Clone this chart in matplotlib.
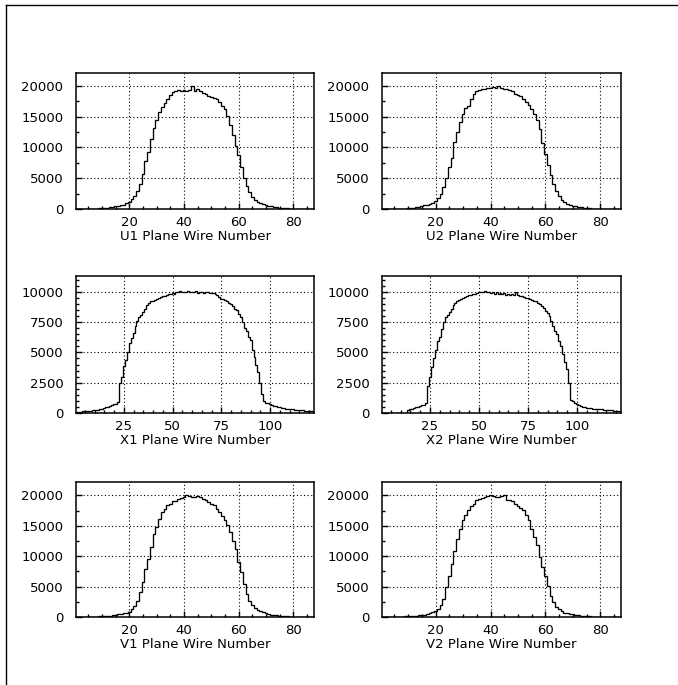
import numpy as np
import matplotlib
matplotlib.use("Agg")
import matplotlib.pyplot as plt
from matplotlib.ticker import MultipleLocator
from matplotlib.lines import Line2D

plt.rcParams['font.family'] = ['DejaVu Sans']

# ---- data (counts in thousands, one value per wire, wires start at 1) ----
u1 = [0, 0, 0, 0.01, 0.02, 0.03, 0.05, 0.07, 0.1, 0.13, 0.17, 0.22, 0.27, 0.33, 0.42, 0.5, 0.6, 0.72, 0.9, 1.2,
      1.6, 2.1, 2.9, 4.1, 5.7, 7.8, 9.3, 11.4, 13.2, 14.4, 15.7, 16.5, 17.2, 17.9, 18.6, 19.0, 19.2, 19.3, 19.1, 19.3,
      19.2, 19.4, 20.0, 19.2, 19.5, 19.1, 18.9, 18.7, 18.4, 18.2, 18.0, 17.9, 17.4, 16.8, 16.2, 15.1, 13.6, 12.1, 10.3, 8.7,
      6.8, 5.1, 3.8, 2.7, 2.0, 1.5, 1.1, 0.9, 0.76, 0.62, 0.5, 0.42, 0.34, 0.27, 0.22, 0.17, 0.13, 0.1, 0.07, 0.05,
      0.03, 0.02, 0.01, 0.01, 0, 0, 0]
u2 = [0, 0, 0, 0, 0.01, 0.02, 0.03, 0.05, 0.08, 0.12, 0.17, 0.22, 0.29, 0.37, 0.46, 0.58, 0.72, 0.85, 1.0, 1.3,
      1.85, 2.4, 3.5, 5.1, 6.8, 8.3, 10.85, 12.5, 14.1, 15.5, 16.4, 16.8, 17.8, 18.7, 19.1, 19.4, 19.55, 19.5, 19.7, 19.65,
      19.8, 19.6, 19.95, 19.7, 19.55, 19.45, 19.3, 19.1, 18.7, 18.6, 18.3, 17.9, 17.4, 16.9, 16.3, 15.5, 14.4, 13.0, 10.8, 9.0,
      7.2, 5.6, 4.0, 2.9, 2.1, 1.5, 1.1, 0.88, 0.7, 0.55, 0.42, 0.32, 0.25, 0.2, 0.15, 0.11, 0.08, 0.06, 0.04, 0.03,
      0.02, 0.01, 0.01, 0, 0, 0, 0]
x1 = [0.08, 0.1, 0.12, 0.14, 0.15, 0.17, 0.19, 0.2, 0.22, 0.24, 0.26, 0.28, 0.31, 0.35, 0.42, 0.47, 0.53, 0.6, 0.66, 0.73,
      0.78, 0.9, 2.5, 3.0, 3.9, 4.4, 5.0, 5.8, 6.2, 6.6, 7.2, 7.6, 7.9, 8.1, 8.3, 8.6, 8.9, 9.1, 9.2, 9.27,
      9.35, 9.4, 9.5, 9.55, 9.62, 9.66, 9.72, 9.78, 9.83, 9.89, 9.8, 10.0, 9.95, 10.05, 10.0, 9.95, 10.02, 10.05, 9.98, 10.0,
      9.95, 10.03, 9.9, 10.0, 9.97, 9.93, 10.0, 9.95, 9.92, 9.9, 9.88, 9.8, 9.75, 9.6, 9.44, 9.4, 9.36, 9.2, 9.08, 8.95,
      8.85, 8.6, 8.5, 8.2, 7.9, 7.5, 7.0, 6.8, 6.3, 6.0, 5.2, 4.6, 4.0, 3.4, 2.5, 1.6, 0.95, 0.85, 0.8, 0.75,
      0.68, 0.6, 0.55, 0.5, 0.46, 0.42, 0.39, 0.36, 0.34, 0.33, 0.31, 0.3, 0.28, 0.27, 0.26, 0.24, 0.22, 0.2, 0.19, 0.18,
      0.16, 0.14]
x2 = [0, 0, 0, 0, 0, 0, 0, 0, 0, 0, 0, 0, 0, 0.28, 0.32, 0.37, 0.42, 0.47, 0.53, 0.58,
      0.63, 0.7, 0.85, 2.2, 3.0, 3.8, 4.5, 5.2, 5.9, 6.3, 6.9, 7.5, 7.9, 8.1, 8.3, 8.6, 8.9, 9.1, 9.2, 9.3,
      9.4, 9.5, 9.55, 9.65, 9.7, 9.75, 9.8, 9.85, 9.9, 9.95, 10.0, 10.02, 10.05, 9.98, 9.95, 9.93, 10.0, 9.85, 9.95, 9.82,
      9.9, 9.8, 9.88, 9.75, 9.85, 9.75, 9.8, 9.72, 9.95, 9.7, 9.68, 9.62, 9.58, 9.52, 9.48, 9.4, 9.35, 9.25, 9.2, 9.05,
      8.95, 8.8, 8.65, 8.45, 8.25, 8.0, 7.6, 7.2, 6.8, 6.5, 5.9, 5.5, 4.9, 4.2, 3.6, 2.5, 1.1, 0.95, 0.8, 0.72,
      0.65, 0.58, 0.52, 0.48, 0.44, 0.42, 0.39, 0.37, 0.35, 0.34, 0.32, 0.31, 0.3, 0.28, 0.27, 0.25, 0.23, 0.21, 0.2, 0.19,
      0.18, 0.17]
v1 = [0, 0, 0, 0, 0.01, 0.02, 0.04, 0.06, 0.09, 0.12, 0.15, 0.19, 0.23, 0.28, 0.35, 0.42, 0.5, 0.58, 0.68, 0.88,
      1.3, 1.87, 2.7, 4.07, 5.7, 7.9, 9.56, 11.48, 13.7, 14.78, 16.15, 17.25, 17.8, 18.35, 18.6, 19.0, 19.1, 19.34, 19.56, 19.73,
      20.0, 19.9, 19.73, 19.75, 19.84, 19.8, 19.34, 19.18, 18.9, 18.63, 18.35, 17.8, 17.25, 16.54, 15.9, 15.05, 13.96, 12.58, 11.2, 9.0,
      7.36, 5.44, 3.8, 2.7, 1.98, 1.48, 1.15, 0.93, 0.77, 0.62, 0.5, 0.4, 0.32, 0.25, 0.2, 0.16, 0.12, 0.09, 0.07, 0.05,
      0.03, 0.02, 0.01, 0.01, 0, 0, 0]
v2 = [0, 0, 0, 0, 0, 0.02, 0.04, 0.07, 0.1, 0.13, 0.16, 0.19, 0.22, 0.28, 0.34, 0.4, 0.48, 0.58, 0.75, 0.99,
      1.3, 1.98, 2.97, 4.89, 6.8, 8.74, 10.93, 12.86, 14.5, 15.88, 16.81, 17.53, 18.24, 18.63, 19.18, 19.34, 19.56, 19.73, 19.9, 20.0,
      19.85, 19.73, 19.8, 19.85, 20.0, 19.18, 19.2, 19.01, 18.63, 18.19, 17.91, 17.53, 16.81, 15.88, 14.5, 13.13, 11.76, 9.84, 8.19, 6.81,
      5.16, 3.52, 2.42, 1.7, 1.32, 0.99, 0.71, 0.6, 0.5, 0.44, 0.35, 0.27, 0.21, 0.16, 0.12, 0.11, 0.08, 0.06, 0.04, 0.03,
      0.02, 0.01, 0.01, 0, 0, 0, 0]

labels = ["U1 Plane Wire Number", "U2 Plane Wire Number",
          "X1 Plane Wire Number", "X2 Plane Wire Number",
          "V1 Plane Wire Number", "V2 Plane Wire Number"]
series = [u1, u2, x1, x2, v1, v2]

# ---- layout (pixel boxes: left, top, right, bottom) ----
W, H = 678, 685
boxes = [(76, 73, 314, 209), (382, 73, 621, 209),
         (76, 276, 314, 413), (382, 276, 621, 413),
         (76, 482, 314, 617), (382, 482, 621, 617)]
ymaxes = [22100, 22100, 11300, 11300, 22200, 22200]

fig = plt.figure(figsize=(W / 100, H / 100), dpi=100)
fig.patch.set_facecolor('white')

# outer frame (top and left lines only)
fig.add_artist(Line2D([6 / W, 1.0], [1 - 5 / H, 1 - 5 / H], color='black', lw=1.0, transform=fig.transFigure))
fig.add_artist(Line2D([6 / W, 6 / W], [1 - 5 / H, 0.0], color='black', lw=1.0, transform=fig.transFigure))

for i, (vals, lab, box, ymax) in enumerate(zip(series, labels, boxes, ymaxes)):
    l, t, r, b = box
    ax = fig.add_axes([l / W, 1 - b / H, (r - l) / W, (b - t) / H])
    counts = np.array(vals) * 1000.0
    wires = np.arange(1, len(counts) + 1)
    edges = np.append(wires - 0.5, wires[-1] + 0.5)
    ax.stairs(counts, edges, color='black', lw=0.95, baseline=None)
    ax.set_xlim(edges[0], edges[-1])
    ax.set_ylim(0, ymax)
    is_x = (i in (2, 3))
    if is_x:
        ax.xaxis.set_major_locator(MultipleLocator(25))
        ax.xaxis.set_minor_locator(MultipleLocator(5))
        ax.yaxis.set_major_locator(MultipleLocator(2500))
        ax.yaxis.set_minor_locator(MultipleLocator(500))
    else:
        ax.xaxis.set_major_locator(MultipleLocator(20))
        ax.xaxis.set_minor_locator(MultipleLocator(5))
        ax.yaxis.set_major_locator(MultipleLocator(5000))
        ax.yaxis.set_minor_locator(MultipleLocator(2500))
    ax.grid(True, which='major', color='black', linestyle=(0, (1, 2.2)), linewidth=0.8)
    ax.set_axisbelow(False)
    ax.tick_params(which='both', direction='in', top=False, right=False, colors='black', width=1.0)
    ax.tick_params(which='major', length=4)
    ax.tick_params(which='minor', length=2.3)
    ax.tick_params(axis='y', which='major', pad=9, labelsize=9.5)
    ax.tick_params(axis='x', which='major', pad=5, labelsize=9.5)
    for s in ax.spines.values():
        s.set_color('black')
        s.set_linewidth(1.1)
    ax.set_xlabel(lab, fontsize=9.5, labelpad=1)

fig.savefig("out.png", dpi=100, facecolor='white')
